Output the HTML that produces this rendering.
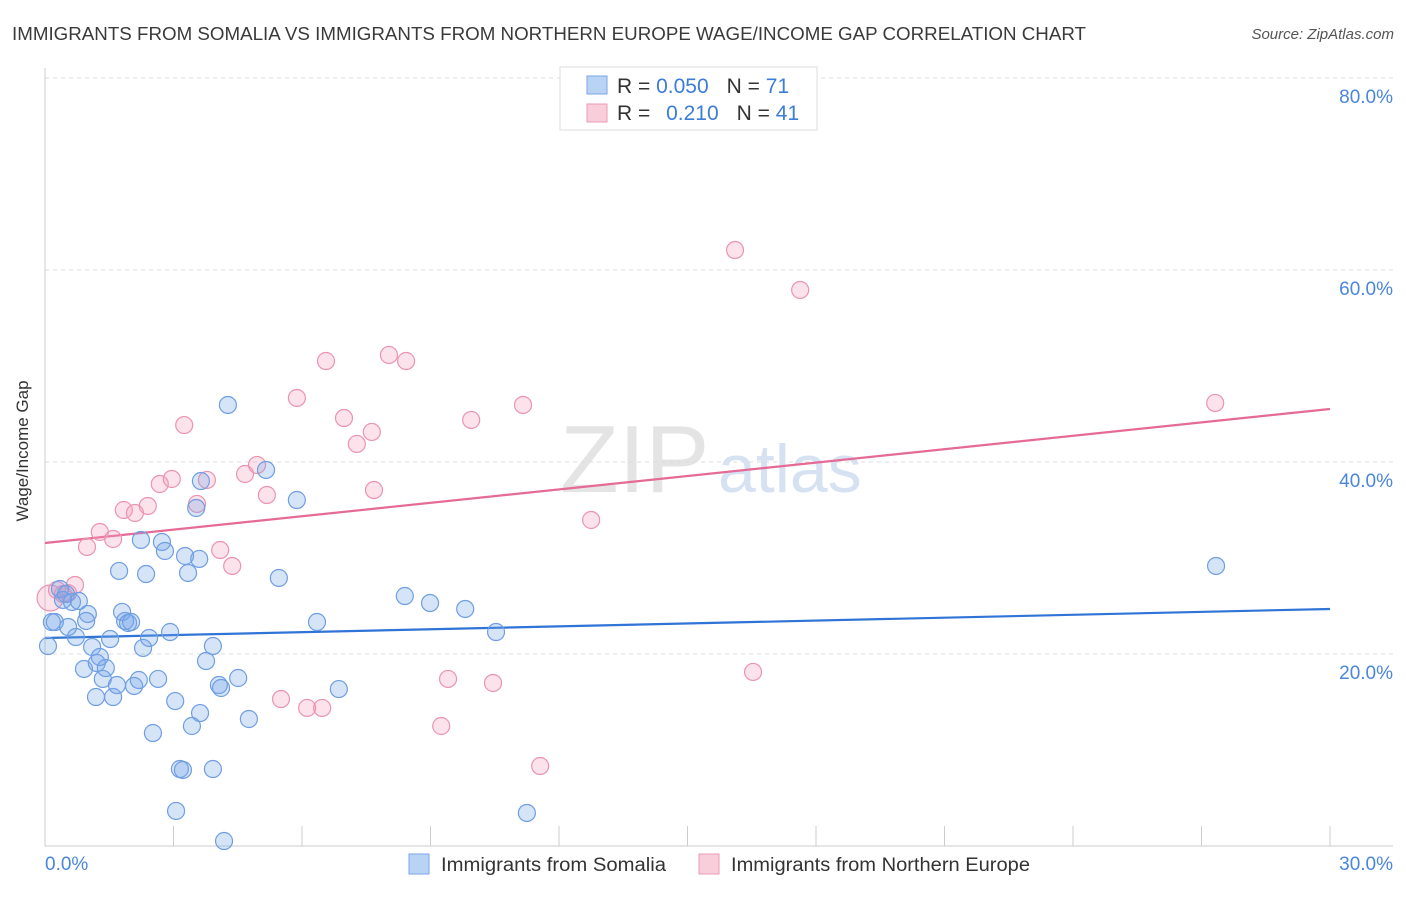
<!DOCTYPE html>
<html><head><meta charset="utf-8"><style>
body{margin:0;background:#fff;font-family:"Liberation Sans",sans-serif;}
svg text{font-family:"Liberation Sans",sans-serif;}
</style></head><body>
<svg id="chart" width="1406" height="892" viewBox="0 0 1406 892">
<text x="12" y="40" font-size="18" fill="#3a3a3a" textLength="1074" lengthAdjust="spacingAndGlyphs">IMMIGRANTS FROM SOMALIA VS IMMIGRANTS FROM NORTHERN EUROPE WAGE/INCOME GAP CORRELATION CHART</text>
<text x="1394" y="39" font-size="15" fill="#555" font-style="italic" text-anchor="end">Source: ZipAtlas.com</text>
<text x="560" y="492" font-size="96" fill="#e4e4e4" font-family="Liberation Serif">ZIP</text>
<text x="718" y="492" font-size="68" fill="#d6e2f2">atlas</text>
<g id="grid"></g>
<g id="axes"></g>
<g id="lines"></g>
<g id="points"></g>
<text x="33" y="456" font-size="17" fill="#333" text-anchor="middle" transform="rotate(-90 28 456)">Wage/Income Gap</text>
<g>
<rect x="560" y="67" width="257" height="63" fill="#fff" stroke="#ddd"/>
<rect x="587" y="76" width="20" height="18" fill="#b9d3f5" stroke="#7aa6e6"/>
<text x="617" y="93" font-size="21" fill="#333">R = <tspan fill="#3b7dd8">0.050</tspan><tspan dx="18">N = </tspan><tspan fill="#3b7dd8">71</tspan></text>
<rect x="587" y="104" width="20" height="18" fill="#f9cdda" stroke="#ea9ab4"/>
<text x="617" y="120" font-size="21" fill="#333">R = <tspan dx="10" fill="#3b7dd8">0.210</tspan><tspan dx="18">N = </tspan><tspan fill="#3b7dd8">41</tspan></text>
</g>
<g>
<rect x="409" y="854" width="20" height="20" fill="#b9d3f5" stroke="#7aa6e6"/>
<text x="441" y="871" font-size="19" fill="#333" textLength="225" lengthAdjust="spacingAndGlyphs">Immigrants from Somalia</text>
</g>
<g>
<rect x="699" y="854" width="20" height="20" fill="#f9cdda" stroke="#ea9ab4"/>
<text x="731" y="871" font-size="19" fill="#333" textLength="299" lengthAdjust="spacingAndGlyphs">Immigrants from Northern Europe</text>
</g>
</svg>
<script>
const yTicks=[20,40,60,80];
const yTickLabels=["20.0%","40.0%","60.0%","80.0%"];
const xTickLabels=["0.0%","30.0%"];
const blueX=[0.07,0.16,0.23,0.35,0.42,0.49,0.54,0.63,0.72,0.79,0.91,1.00,0.96,1.10,1.21,1.28,1.35,1.42,1.52,1.59,1.68,1.19,1.73,1.80,1.87,1.94,2.01,2.08,2.19,2.24,2.29,2.36,2.43,2.52,2.64,2.73,2.80,2.92,3.04,3.06,3.15,3.22,3.27,3.34,3.43,3.53,3.60,3.62,3.64,3.76,3.92,3.92,4.06,4.11,4.18,4.27,4.51,4.76,5.16,5.46,5.88,6.35,6.86,8.40,8.99,9.81,10.53,11.25,27.34];
const blueY=[20.83,23.33,23.33,26.77,25.63,26.25,22.81,25.42,21.77,25.52,18.44,24.17,23.44,20.73,19.06,19.69,17.40,18.54,21.56,15.52,16.77,15.52,28.65,24.38,23.44,23.23,23.33,16.67,17.29,31.88,20.63,28.33,21.67,11.77,17.40,31.67,30.73,22.29,15.10,3.65,8.02,7.92,30.21,28.44,12.50,35.21,29.90,13.85,38.02,19.27,8.02,20.83,16.77,16.46,0.52,45.94,17.50,13.23,39.17,27.92,36.04,23.33,16.35,26.04,25.31,24.69,22.29,3.44,29.17];
const pinkX=[0.12,0.28,0.42,0.54,0.70,0.98,1.28,1.59,1.84,2.10,2.40,2.68,2.96,3.25,3.55,3.78,4.09,4.37,4.67,4.95,5.18,5.51,5.88,6.12,6.47,6.56,6.98,7.28,7.63,7.68,8.03,8.43,9.25,9.41,9.95,10.46,11.16,11.56,12.75,16.11,16.53,17.63,27.32];
const pinkY=[25.83,26.67,26.25,26.35,27.19,31.15,32.71,31.98,35.00,34.69,35.42,37.71,38.23,43.85,35.63,38.13,30.83,29.17,38.75,39.69,36.56,15.31,46.67,14.38,14.38,50.52,44.58,41.88,43.13,37.08,51.15,50.52,12.50,17.40,44.38,16.98,45.94,8.33,33.96,62.08,18.13,57.92,46.15];
const blueTrend=[21.67,24.69];
const pinkTrend=[31.56,45.52];
const NS="http://www.w3.org/2000/svg";
const sx=v=>45+v/30*1285;
const sy=v=>846-v*9.6;
function mk(tag,attrs,parent){const e=document.createElementNS(NS,tag);for(const k in attrs)e.setAttribute(k,attrs[k]);document.getElementById(parent).appendChild(e);return e;}
yTicks.forEach((t,i)=>{
 const l=mk('line',{x1:45,x2:1393,y1:sy(t),y2:sy(t),stroke:'#ddd','stroke-dasharray':'4,4'},'grid');
 
 
 const tx=mk('text',{x:1393,y:sy(t)+25,'font-size':19,fill:'#4a86dc','text-anchor':'end'},'grid');
 tx.textContent=yTickLabels[i];
 
 
});
let ax=mk('line',{x1:45,x2:1393,y1:846,y2:846,stroke:'#ccc'},'axes');


let ay=mk('line',{x1:45,x2:45,y1:68,y2:846,stroke:'#ccc'},'axes');


for(let i=0;i<=10;i++){
 const t=mk('line',{x1:sx(i*3),x2:sx(i*3),y1:826,y2:846,stroke:'#ccc'},'axes');
 
 
}
[[0,'start',45],[30,'end',1393]].forEach((d,i)=>{
 const t=mk('text',{x:d[2],y:870,'font-size':19,fill:'#4a86dc','text-anchor':d[1]},'axes');
 t.textContent=xTickLabels[i];
 
 
});
function pts(xs,ys,fill,stroke,name){
 xs.forEach((x,i)=>{
  const c=mk('circle',{cx:sx(x),cy:sy(ys[i]),r:(name==='pink-point'&&i===0)?13:8.5,fill:fill,stroke:stroke,'stroke-width':1.2},'points');
  
  
 });
}
pts(pinkX,pinkY,'rgba(242,160,188,0.3)','#eb94b2','pink-point');
pts(blueX,blueY,'rgba(120,165,232,0.3)','#6f9ee3','blue-point');
const bl=mk('line',{x1:sx(0),y1:sy(blueTrend[0]),x2:sx(30),y2:sy(blueTrend[1]),stroke:'#2f74d6','stroke-width':2.2},'lines');


const pl=mk('line',{x1:sx(0),y1:sy(pinkTrend[0]),x2:sx(30),y2:sy(pinkTrend[1]),stroke:'#e56a96','stroke-width':2.2},'lines');


</script>
</body></html>
